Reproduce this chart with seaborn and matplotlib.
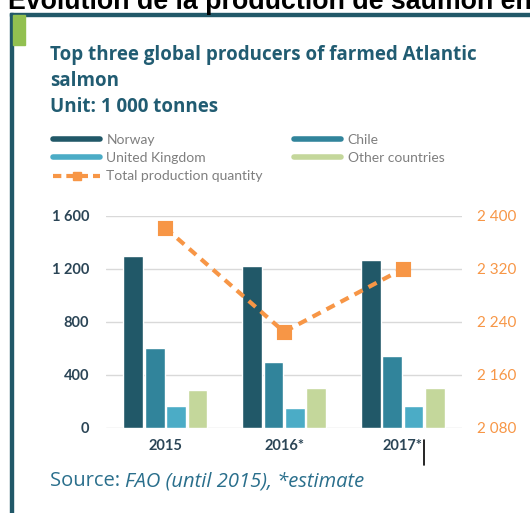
import matplotlib
matplotlib.use("Agg")
import matplotlib.pyplot as plt
import seaborn as sns
import pandas as pd
from matplotlib.lines import Line2D
from matplotlib.patches import Rectangle
from matplotlib.ticker import FuncFormatter

years = ["2015", "2016*", "2017*"]
countries = ["Norway", "Chile", "United Kingdom", "Other countries"]
norway = [1300, 1222, 1265]
chile = [605, 495, 540]
uk = [163, 148, 163]
other = [287, 298, 298]
total = [2382, 2225, 2320]

colors = ["#215868", "#31849b", "#4bacc6", "#c4d79b"]
orange = "#f79646"
title_col = "#215c72"
tick_col = "#2b4556"

rows = []
for c, vals in zip(countries, [norway, chile, uk, other]):
    for y, v in zip(years, vals):
        rows.append({"year": y, "country": c, "value": v})
df = pd.DataFrame(rows)

sns.set_style("white")
plt.rcParams["font.family"] = ["Lato", "DejaVu Sans"]

fig = plt.figure(figsize=(5.30, 5.13), dpi=100)
ax = fig.add_axes([0.200, 0.166, 0.672, 0.413])

sns.barplot(data=df, x="year", y="value", hue="country", palette=colors,
            width=0.72, gap=0.08, ax=ax, legend=False, saturation=1)
ax.set_ylim(0, 1600)
ax.set_yticks([0, 400, 800, 1200, 1600])
ax.set_xlim(-0.5, 2.5)
ax.yaxis.grid(True, color="#d9d9d9", lw=1)
ax.set_axisbelow(True)
for s in ax.spines.values():
    s.set_visible(False)
ax.set_xlabel("")
ax.set_ylabel("")
fmt = FuncFormatter(lambda v, p: f"{int(v):,}".replace(",", " "))
ax.yaxis.set_major_formatter(fmt)
ax.tick_params(axis="y", length=0, pad=12, labelsize=10.5, labelcolor=tick_col)
ax.tick_params(axis="x", length=0, pad=8, labelsize=10.5, labelcolor=tick_col)
for t in ax.get_yticklabels() + ax.get_xticklabels():
    t.set_fontweight("bold")

ax2 = ax.twinx()
sns.pointplot(x=years, y=total, ax=ax2, color=orange, marker="s",
              markersize=9, linestyle=(0, (2.2, 1.6)), linewidth=3)
ax2.set_ylim(2080, 2400)
ax2.set_yticks([2080, 2160, 2240, 2320, 2400])
ax2.yaxis.set_major_formatter(fmt)
ax2.tick_params(axis="y", length=0, pad=11, labelsize=11, labelcolor=orange)
for s in ax2.spines.values():
    s.set_visible(False)
ax2.set_ylabel("")

# legend
handles = [
    Line2D([], [], color=colors[0], lw=4),
    Line2D([], [], color=colors[2], lw=4),
    Line2D([], [], color=orange, lw=3, ls=(0, (2, 1.2)), marker="s", markersize=6),
    Line2D([], [], color=colors[1], lw=4),
    Line2D([], [], color=colors[3], lw=4),
]
labels = ["Norway", "United Kingdom", "Total production quantity", "Chile", "Other countries"]
fig.legend(handles, labels, ncol=2, loc="upper left", bbox_to_anchor=(53 / 530, 1 - 134 / 513),
           frameon=False, fontsize=10, labelcolor="#7f7f7f", handlelength=3.4,
           handletextpad=0.45, columnspacing=2.25, labelspacing=0.45, borderpad=0,
           borderaxespad=0)

# titles
tfont = ["Open Sans", "DejaVu Sans"]
fig.text(50 / 530, 1 - 55 / 513, "Top three global producers of farmed Atlantic",
         fontsize=13.5, fontweight="bold", color=title_col, va="center", family=tfont)
fig.text(50 / 530, 1 - 81 / 513, "salmon",
         fontsize=13.5, fontweight="bold", color=title_col, va="center", family=tfont)
fig.text(50 / 530, 1 - 107 / 513, "Unit: 1 000 tonnes", fontsize=13.5, fontweight="bold",
         color=title_col, va="center", family=tfont)
src1 = fig.text(50 / 530, 1 - 481 / 513, "Source: ", fontsize=14.5, color="#2a6f8c",
                va="center", family=tfont)
fig.canvas.draw()
bb = src1.get_window_extent()
fig.text(bb.x1 / fig.bbox.width, 1 - 481 / 513, "FAO (until 2015), *estimate",
         fontsize=14.5, style="italic", color="#2a6f8c", va="center", family=tfont)

# page heading and frame
fig.text(8 / 530, 1 - 9 / 513, "Evolution de la production de saumon en",
         fontsize=19.3, fontweight="bold", family="Liberation Sans", color="black",
         va="baseline")
fig.add_artist(Rectangle((10 / 530, 0), 3 / 530, 1 - 13 / 513, color="#215868",
                         transform=fig.transFigure))
fig.add_artist(Rectangle((10 / 530, 1 - 15.5 / 513), 1, 3 / 513, color="#215868",
                         transform=fig.transFigure))
fig.add_artist(Rectangle((13 / 530, 1 - 45 / 513), 12 / 530, 30 / 513, color="#92c050",
                         transform=fig.transFigure))
fig.add_artist(Line2D([424 / 530, 424 / 530], [1 - 440 / 513, 1 - 465 / 513],
                      color="black", lw=1.2, transform=fig.transFigure))

fig.savefig("out.png", dpi=100)
